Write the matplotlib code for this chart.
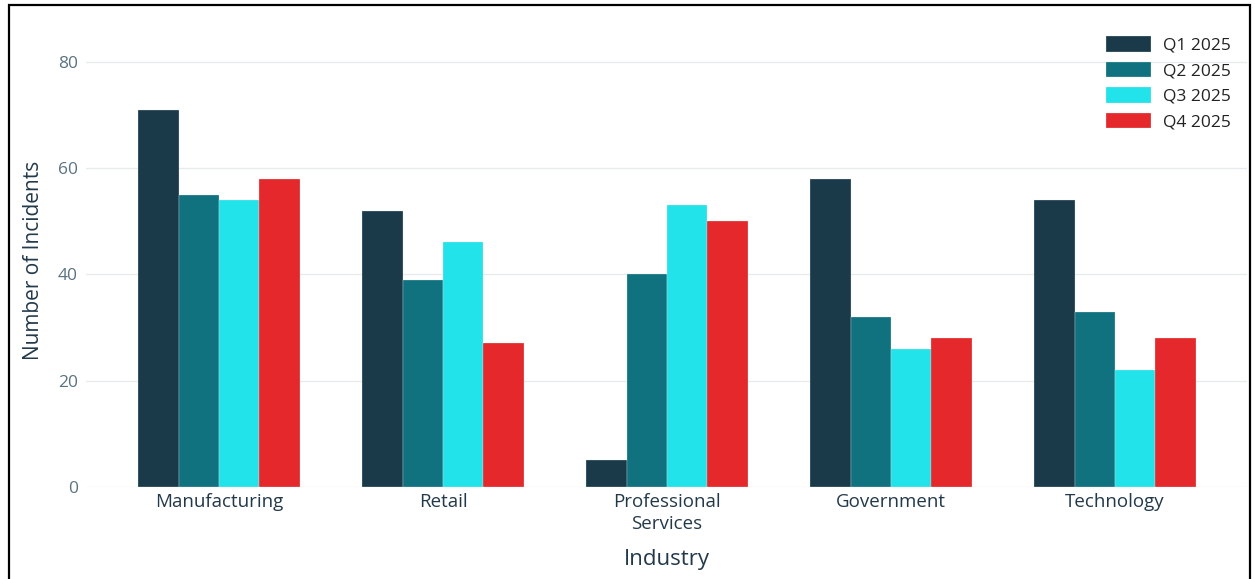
import numpy as np
import matplotlib.pyplot as plt
from matplotlib.patches import Rectangle

plt.rcParams['font.family'] = ['Open Sans', 'DejaVu Sans']

industries = ['Manufacturing', 'Retail', 'Professional\nServices', 'Government', 'Technology']
quarters = ['Q1 2025', 'Q2 2025', 'Q3 2025', 'Q4 2025']
q1 = [71, 52, 5, 58, 54]
q2 = [55, 39, 40, 32, 33]
q3 = [54, 46, 53, 26, 22]
q4 = [58, 27, 50, 28, 28]
colors = ['#1a3a4a', '#10717f', '#22e2ea', '#e4282b']

W, H = 1255, 579
fig = plt.figure(figsize=(W / 100, H / 100), dpi=100)
ax = fig.add_axes([86 / W, 1 - 487 / H, (1247 - 86) / W, (487 - 34) / H])

x = np.arange(len(industries))
bw = 0.18
for i, (vals, lab) in enumerate(zip([q1, q2, q3, q4], quarters)):
    ax.bar(x + (i - 1.5) * bw, vals, bw, color=colors[i], label=lab,
           edgecolor='#e8eef0', linewidth=0.2, zorder=3)

ax.set_xlim((86 - 219) / 224, (1247 - 219) / 224)
ax.set_ylim(0, 85.2)
ax.set_yticks([0, 20, 40, 60, 80])
ax.grid(axis='y', color='#e6ecee', linewidth=1, zorder=0)
for s in ax.spines.values():
    s.set_visible(False)
ax.tick_params(axis='y', length=0, pad=6, labelsize=12.5, labelcolor='#5b7282')
ax.tick_params(axis='x', length=0, pad=4, labelsize=13.5, labelcolor='#22394a')
ax.set_xticks(x)
ax.set_xticklabels(industries, linespacing=1.3)

ax.set_ylabel('Number of Incidents', fontsize=15, color='#22394a', labelpad=10)
ax.set_xlabel('Industry', fontsize=16, color='#22394a', labelpad=12)

leg = ax.legend(loc='upper right', bbox_to_anchor=(1.0, 1.03), frameon=False,
                fontsize=12.5, handlelength=2.6, handleheight=1.0,
                labelspacing=0.45, handletextpad=0.7)
for t in leg.get_texts():
    t.set_color('#222222')

# outer frame (bottom edge runs off the image)
fig.add_artist(Rectangle((8.5 / W, -0.1), (1250 - 8.5) / W, 1.1 - 5 / H,
                         transform=fig.transFigure, fill=False,
                         edgecolor='black', linewidth=1.6))

plt.savefig('out.png', dpi=100)
